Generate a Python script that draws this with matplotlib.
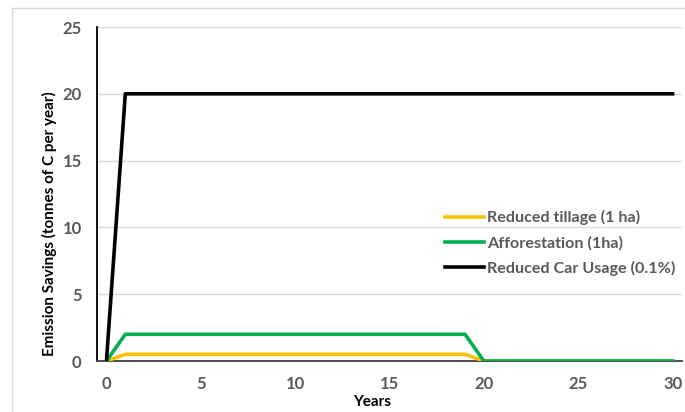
import matplotlib.pyplot as plt
from matplotlib.lines import Line2D

years_tillage = [0, 1, 19, 20, 30]
tillage = [0, 0.5, 0.5, 0, 0]
years_forest = [0, 1, 19, 20, 30]
forest = [0, 2, 2, 0, 0]
years_car = [0, 1, 30]
car = [0, 20, 20]

labels = ["Reduced tillage (1 ha)", "Afforestation (1ha)", "Reduced Car Usage (0.1%)"]
colors = ["#ffc000", "#00b050", "#000000"]
xticks = [0, 5, 10, 15, 20, 25, 30]
yticks = [0, 5, 10, 15, 20, 25]

plt.rcParams['font.family'] = ['Lato', 'DejaVu Sans']

fig = plt.figure(figsize=(6.85, 4.12), dpi=100)
ax = fig.add_axes([97/685, 1-361/412, (682-97)/685, (361-27)/412])

ax.plot(years_tillage, tillage, color=colors[0], lw=2.6, label=labels[0], zorder=3)
ax.plot(years_forest, forest, color=colors[1], lw=2.6, label=labels[1], zorder=4)
ax.plot(years_car, car, color=colors[2], lw=2.6, label=labels[2], zorder=5)

ax.set_xlim(-0.5, 30.5)
ax.set_ylim(0, 25)
ax.set_xticks(xticks)
ax.set_yticks(yticks)
ax.tick_params(length=0, labelsize=12, labelcolor="#595959", pad=11)
for t in ax.get_xticklabels() + ax.get_yticklabels():
    t.set_fontweight("bold")

ax.grid(axis="y", color="#d9d9d9", lw=1)
ax.set_axisbelow(True)
for s in ["top", "right"]:
    ax.spines[s].set_visible(False)
ax.spines["left"].set_color("black")
ax.spines["left"].set_linewidth(1.3)
ax.spines["bottom"].set_color("#404040")
ax.spines["bottom"].set_linewidth(1.3)

ax.set_xlabel("Years", fontsize=11, fontweight="bold")
ax.xaxis.set_label_coords(0.47, -0.103)
ax.set_ylabel("Emission Savings (tonnes of C per year)", fontsize=11, fontweight="bold")
ax.yaxis.set_label_coords(-0.068, 0.41)

leg = ax.legend(loc="upper left", bbox_to_anchor=(0.57, 0.495), frameon=False,
                fontsize=11.6, handlelength=2.4, handletextpad=0.2, labelspacing=0.65)
for t in leg.get_texts():
    t.set_fontweight("bold")
    t.set_color("#595959")

# outer chart border
fig.add_artist(Line2D([12/685, 1], [1-8/412, 1-8/412], transform=fig.transFigure, color="#d9d9d9", lw=1))
fig.add_artist(Line2D([12/685, 12/685], [0, 1-8/412], transform=fig.transFigure, color="#d9d9d9", lw=1))

fig.savefig("out.png", dpi=100)
